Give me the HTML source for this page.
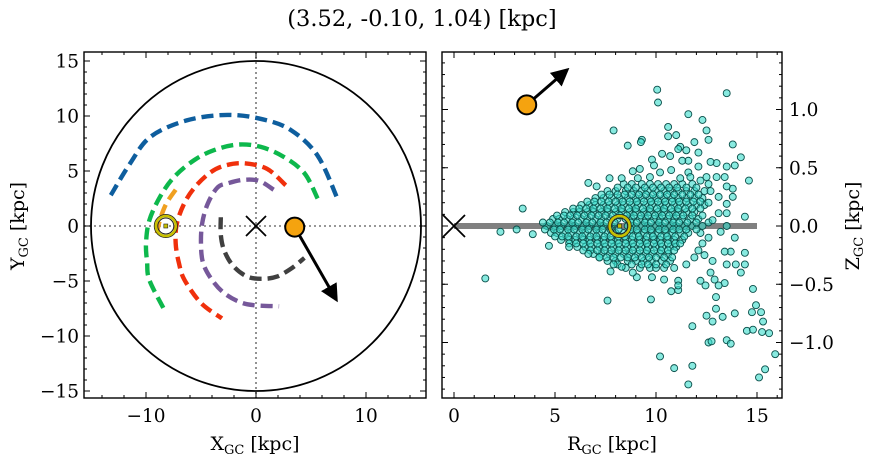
<!DOCTYPE html>
<html><head><meta charset="utf-8">
<style>
html,body{margin:0;padding:0;background:#fff;}
svg{display:block;font-family:"DejaVu Serif","Liberation Serif",serif;}
</style></head>
<body>
<svg id="fig" width="874" height="464" viewBox="0 0 874 464">
<text x="422" y="26" font-size="22.5" text-anchor="middle">(3.52, -0.10, 1.04) [kpc]</text>
</svg>
<script>
// ---------- data ----------
const armBlue   = [[-13.2,2.8],[-11.5,5.6],[-9.6,8.1],[-6.3,9.6],[-2.6,10.1],[0.6,9.7],[3.2,8.7],[5.6,6.4],[7.4,2.5]];
const armGreen  = [[5.6,2.5],[4.4,4.8],[2.5,6.3],[0.4,7.2],[-1.7,7.4],[-3.8,6.9],[-5.6,6.0],[-7.4,4.5],[-8.7,2.7],[-9.7,0.5],[-10.0,-1.6],[-9.9,-3.3],[-9.7,-4.9],[-8.4,-7.5]];
const armRed    = [[2.7,3.7],[1.0,5.2],[-1.1,5.7],[-2.8,5.5],[-4.1,4.9],[-5.5,3.6],[-6.5,2.1],[-7.2,0.2],[-7.3,-1.6],[-7.0,-3.4],[-6.5,-4.9],[-5.0,-7.0],[-3.1,-8.4]];
const armPurple = [[1.6,3.3],[0.3,4.1],[-1.1,4.2],[-2.5,3.9],[-3.5,3.5],[-4.4,2.0],[-4.9,0.2],[-5.0,-1.7],[-4.8,-3.4],[-4.0,-4.9],[-2.9,-6.1],[-1.5,-6.9],[-0.2,-7.2],[2.1,-7.3]];
const armGray   = [[-3.2,0.8],[-3.2,-0.8],[-2.9,-2.2],[-2.1,-3.6],[-0.8,-4.6],[0.6,-4.8],[1.9,-4.6],[3.3,-3.8],[4.4,-2.9]];
const armOrange = [[-7.3,3.3],[-8.0,2.3],[-8.4,1.5],[-8.8,0.3],[-9.1,-1.1]];
const sunXY = [-8.2, 0];
const starXY = [3.52, -0.10];
const starVel = [7.3, -6.7];
const sunRZ = [8.2, 0];
const starRZ = [3.6, 1.04];
const starVelRZ = [5.6, 1.34];
const outR = [10.06,13.5,10.1,11.6,12.3,7.9,10.6,10.6,11.0,12.5,12.6,13.8,8.6,9.3,9.25,10.3,11.9,11.5,14.2,9.8,6.65,7.06,14.6,13.8,13.5,14.4,3.4,2.3,3.1,3.9,4.7,5.7,1.55,7.6,9.75,13.9,14.4,14.4,14.2,14.8,14.95,14.75,15.2,15.3,15.25,15.6,14.5,14.8,15.9,15.4,15.1,10.2,10.9,11.8,11.6,11.8,12.6,12.75,13.5,13.7,12.97,13.3,12.8,12.5,13.9,12.97,12.2,12.45,13.4,13.1,12.7,12.9,13.5,13.7,13.95,13.4,12.8,12.1,11.5,11.9,11.1,11.1,10.75,11.1,10.4,9.8,9.05,8.85,7.75,7.9,8.3,7.2,6.65,13.5,13.0,12.7,13.9,13.0,13.4,13.5,13.8,13.1,13.5,13.1,11.2,11.1,10.7,11.6,12.1,11.3,12.1,11.6,10.75,10.2,9.9,9.2,8.85,7.7,8.3,9.1,9.7,12.2,11.2,11.7,12.5,12.8,13.2,12.6,13.5,12.3,12.6,12.4,12.7];
const outZ = [1.17,1.14,1.06,0.96,0.91,0.82,0.85,0.77,0.78,0.82,0.74,0.70,0.69,0.74,0.72,0.62,0.72,0.65,0.59,0.57,0.37,0.34,0.39,0.32,0.19,0.08,0.15,-0.05,-0.03,-0.07,-0.17,-0.18,-0.45,-0.64,-0.63,-0.10,-0.23,-0.33,-0.40,-0.54,-0.68,-0.74,-0.74,-0.82,-0.91,-0.92,-0.90,-0.89,-1.10,-1.23,-1.30,-1.12,-1.22,-1.20,-1.36,-0.86,-1.00,-0.99,-0.98,-1.01,-0.71,-0.78,-0.82,-0.77,-0.75,-0.61,-0.47,-0.51,-0.49,-0.51,-0.40,-0.46,-0.33,-0.22,-0.33,-0.22,-0.30,-0.21,-0.33,-0.27,-0.47,-0.55,-0.56,-0.51,-0.46,-0.44,-0.44,-0.40,-0.39,-0.33,-0.35,-0.27,-0.24,0.51,0.54,0.55,0.52,0.42,0.42,0.34,0.25,0.25,0.11,0.11,0.68,0.66,0.60,0.56,0.63,0.56,0.51,0.46,0.48,0.46,0.52,0.49,0.47,0.41,0.41,0.41,0.42,0.39,0.41,0.42,0.42,0.05,-0.05,-0.10,0.00,-0.15,0.20,-0.25,0.30];
const coreZ = [0.00,0.06,-0.06,0.12,-0.12,0.18,-0.18,0.24,-0.24,0.30,-0.30,0.36,-0.36,0.03,-0.03,0.09,-0.09,0.15,-0.15,0.21,-0.21,0.27,-0.27,0.33,-0.33];
const coreR = [
 [4.6,5.0,5.3,5.7,6.0,6.4,6.7,7.1,7.4,7.8,8.6,8.9,9.3,9.6,10.0,10.3,10.7,11.0,11.4,11.8,12.3],
 [4.9,5.2,5.6,5.9,6.3,6.6,7.0,7.3,7.7,8.1,8.5,8.8,9.2,9.5,9.9,10.2,10.6,10.9,11.3,11.7,12.1],
 [4.8,5.1,5.5,5.8,6.2,6.5,6.9,7.2,7.6,8.0,8.4,8.7,9.1,9.4,9.8,10.1,10.5,10.8,11.2,11.6,12.2],
 [5.5,5.9,6.2,6.6,6.9,7.3,7.6,8.0,8.3,8.7,9.0,9.4,9.7,10.1,10.4,10.8,11.1,11.5,11.9],
 [5.3,5.7,6.0,6.4,6.7,7.1,7.4,7.8,8.1,8.5,8.8,9.2,9.5,9.9,10.2,10.6,10.9,11.3],
 [6.3,6.7,7.0,7.4,7.7,8.1,8.4,8.8,9.1,9.5,9.8,10.2,10.5,10.9,11.2,11.6,12.0,12.4],
 [6.1,6.5,6.8,7.2,7.5,7.9,8.2,8.6,8.9,9.3,9.6,10.0,10.3,10.7,11.0],
 [7.0,7.4,7.8,8.2,8.6,9.0,9.3,9.7,10.0,10.4,10.8,11.1,11.5,11.9,12.3],
 [6.9,7.3,7.7,8.0,8.4,8.7,9.1,9.5,9.8,10.2,10.6],
 [7.6,8.0,8.5,8.9,9.3,9.6,10.0,10.4,10.7,11.1,11.5,11.9,12.4],
 [7.6,8.0,8.6,9.0,9.4,9.8,10.3,10.7],
 [8.4,8.8,9.3,9.7,10.1,10.5,10.9,11.3,11.8,12.6],
 [8.5,9.2,9.7,10.0,10.4,10.9],
 [4.4,4.75,5.15,5.45,5.85,6.15,6.55,6.85,7.25,7.55,7.95,8.75,9.05,9.45,9.75,10.15,10.45,10.85,11.15,11.55,12.0,12.6],
 [4.5,4.95,5.25,5.65,5.95,6.35,6.65,7.05,7.35,7.75,8.15,8.75,9.05,9.45,9.75,10.15,10.45,10.85,11.15,11.5,12.0],
 [5.1,5.45,5.75,6.1,6.45,6.8,7.15,7.5,7.85,8.2,8.55,8.9,9.25,9.6,9.95,10.3,10.65,11.0,11.35,11.8,12.3],
 [5.0,5.35,5.65,6.05,6.35,6.75,7.05,7.45,7.75,8.15,8.45,8.85,9.15,9.55,9.85,10.25,10.55,10.95,11.4],
 [5.9,6.2,6.55,6.9,7.25,7.6,7.95,8.3,8.65,9.0,9.35,9.7,10.05,10.4,10.75,11.1,11.45,11.8,12.2],
 [5.7,6.05,6.4,6.75,7.1,7.45,7.8,8.15,8.5,8.85,9.2,9.55,9.9,10.25,10.6,10.95,11.2],
 [6.6,6.95,7.3,7.65,8.0,8.35,8.7,9.05,9.4,9.75,10.1,10.45,10.8,11.15,11.5,11.85,12.2],
 [6.4,6.75,7.1,7.45,7.8,8.15,8.5,8.85,9.2,9.55,9.9,10.25,10.6,10.9],
 [7.3,7.7,8.1,8.45,8.8,9.15,9.5,9.85,10.2,10.55,10.9,11.3,11.7,12.1],
 [7.2,7.55,7.9,8.25,8.6,8.95,9.3,9.65,10.0,10.4,10.8],
 [8.1,8.6,9.0,9.45,9.85,10.25,10.65,11.05,11.5,12.0],
 [8.1,8.8,9.3,9.6,10.0,10.5]
];
const leftXTicks = [-10,0,10];
const leftYTicks = [-15,-10,-5,0,5,10,15];
const rightXTicks = [0,5,10,15];
const rightYTicks = [-1.0,-0.5,0.0,0.5,1.0];

// ---------- helpers ----------
const NS='http://www.w3.org/2000/svg';
const svg=document.getElementById('fig');
function mk(tag,attrs,parent){const e=document.createElementNS(NS,tag);for(const k in attrs)e.setAttribute(k,attrs[k]);(parent||svg).appendChild(e);return e;}
const L={x0:84,x1:426,y0:52,y1:398};
const lx=v=>256+v*11, ly=v=>226-v*11;
const R={x0:442,x1:782,y0:52,y1:398};
const rx=v=>454+v*20.2, rz=v=>226-v*116.5;

const defs=mk('defs',{});
const clipL=mk('clipPath',{id:'clipL'},defs);mk('rect',{x:L.x0,y:L.y0,width:L.x1-L.x0,height:L.y1-L.y0},clipL);
const clipR=mk('clipPath',{id:'clipR'},defs);mk('rect',{x:R.x0,y:R.y0,width:R.x1-R.x0,height:R.y1-R.y0},clipR);
const mkr=mk('marker',{id:'ah',markerWidth:'6',markerHeight:'6',refX:'5',refY:'3',orient:'auto',markerUnits:'strokeWidth'},defs);
mk('path',{d:'M0,0 L6,3 L0,6 Z',fill:'#000'},mkr);

// ===== LEFT PANEL =====
const gL=mk('g',{'clip-path':'url(#clipL)'});


let e;
e=mk('line',{x1:L.x0,x2:L.x1,y1:ly(0),y2:ly(0),stroke:'#777','stroke-width':1.6,'stroke-dasharray':'2,3'},gL);

e=mk('line',{x1:lx(0),x2:lx(0),y1:L.y0,y2:L.y1,stroke:'#777','stroke-width':1.6,'stroke-dasharray':'2,3'},gL);

e=mk('circle',{cx:lx(0),cy:ly(0),r:15*11,fill:'none',stroke:'#000','stroke-width':1.8},gL);


function smooth(pts,fx,fy){
  const p=pts.map(a=>[fx(a[0]),fy(a[1])]);
  let d='M'+p[0][0]+','+p[0][1];
  for(let i=0;i<p.length-1;i++){
    const p0=p[i-1]||p[i],p1=p[i],p2=p[i+1],p3=p[i+2]||p2;
    const c1=[p1[0]+(p2[0]-p0[0])/6,p1[1]+(p2[1]-p0[1])/6];
    const c2=[p2[0]-(p3[0]-p1[0])/6,p2[1]-(p3[1]-p1[1])/6];
    d+=' C'+c1+' '+c2+' '+p2;
  }
  return d;
}
const arms=[[armBlue,'#0e5e9e','arm-perseus'],[armGreen,'#0db84c','arm-local'],[armRed,'#f0300c','arm-sagittarius'],[armPurple,'#76589a','arm-scutum'],[armGray,'#404040','arm-3kpc'],[armOrange,'#f0a020','arm-orion-spur']];
arms.forEach(a=>{
  const p=mk('path',{d:smooth(a[0],lx,ly),fill:'none',stroke:a[1],'stroke-width':4.4,'stroke-dasharray':'12,6'},gL);
  
  
});
function cross(g,cx,cy,s,name){
  const gg=mk('g',{},g);
  
  
  mk('line',{x1:cx-s,y1:cy-s,x2:cx+s,y2:cy+s,stroke:'#000','stroke-width':1.8},gg);
  mk('line',{x1:cx-s,y1:cy+s,x2:cx+s,y2:cy-s,stroke:'#000','stroke-width':1.8},gg);
}
cross(gL,lx(0),ly(0),10,'galactic-center-marker');
function sun(g,cx,cy,name){
  const gg=mk('g',{},g);
  
  
  mk('circle',{cx,cy,r:11.5,fill:'none',stroke:'#222','stroke-width':1},gg);
  mk('circle',{cx,cy,r:10,fill:'none',stroke:'#c8c000','stroke-width':2.5},gg);
  mk('circle',{cx,cy,r:8,fill:'none',stroke:'#222','stroke-width':1},gg);
  mk('rect',{x:cx-2,y:cy-2,width:4,height:4,fill:'#c8c000',stroke:'#222','stroke-width':0.6},gg);
}
sun(gL,lx(sunXY[0]),ly(sunXY[1]),'sun-marker-xy');
e=mk('line',{x1:lx(starXY[0]),y1:ly(starXY[1]),x2:lx(starVel[0]),y2:ly(starVel[1]),stroke:'#000','stroke-width':3,'marker-end':'url(#ah)'},gL);

e=mk('circle',{cx:lx(starXY[0]),cy:ly(starXY[1]),r:9.5,fill:'#f5a30f',stroke:'#000','stroke-width':2},gL);


function frame(A,name){
  const r=mk('rect',{x:A.x0,y:A.y0,width:A.x1-A.x0,height:A.y1-A.y0,fill:'none',stroke:'#000','stroke-width':1.4});
  
}
frame(L,'left-axes-frame');
function ticksX(A,f,lo,hi,major,minorStep,name,labels){
  const g=mk('g',{stroke:'#000','stroke-width':1});
  
  for(let v=lo;v<=hi+1e-9;v+=minorStep){const x=f(v);if(x<A.x0||x>A.x1)continue;
    mk('line',{x1:x,x2:x,y1:A.y1,y2:A.y1-3},g);mk('line',{x1:x,x2:x,y1:A.y0,y2:A.y0+3},g);}
  major.forEach(v=>{const x=f(v);
    mk('line',{x1:x,x2:x,y1:A.y1,y2:A.y1-6},g);mk('line',{x1:x,x2:x,y1:A.y0,y2:A.y0+6},g);
    if(labels){const t=mk('text',{x:x,y:A.y1+24,'font-size':18.5,'text-anchor':'middle',stroke:'none',fill:'#000'});t.textContent=(v<0?'\u2212'+(-v):String(v));
      }
  });
}
function ticksY(A,f,lo,hi,major,minorStep,name,labelSide,fmt){
  const g=mk('g',{stroke:'#000','stroke-width':1});
  
  for(let v=lo;v<=hi+1e-9;v+=minorStep){const y=f(v);if(y<A.y0||y>A.y1)continue;
    mk('line',{x1:A.x0,x2:A.x0+3,y1:y,y2:y},g);mk('line',{x1:A.x1,x2:A.x1-3,y1:y,y2:y},g);}
  major.forEach(v=>{const y=f(v);
    mk('line',{x1:A.x0,x2:A.x0+6,y1:y,y2:y},g);mk('line',{x1:A.x1,x2:A.x1-6,y1:y,y2:y},g);
    const s=fmt(v);
    const t=labelSide==='left'?mk('text',{x:A.x0-5,y:y+6.5,'font-size':18.5,'text-anchor':'end',stroke:'none',fill:'#000'}):mk('text',{x:A.x1+7,y:y+6.5,'font-size':18.5,'text-anchor':'start',stroke:'none',fill:'#000'});
    t.textContent=s;
    
  });
}
const fmtInt=v=>v<0?'\u2212'+(-v):String(v);
const fmt1=v=>(v<0?'\u2212':'')+Math.abs(v).toFixed(1);
ticksX(L,lx,-16,16,leftXTicks,2,'left-x-axis',true);
ticksY(L,ly,-16,16,leftYTicks,1,'left-y-axis','left',fmtInt);

let t=mk('text',{x:255,y:450,'font-size':19,'text-anchor':'middle'});
t.innerHTML='X<tspan font-size="13" dy="4">GC</tspan><tspan dy="-4"> [kpc]</tspan>';

t=mk('text',{x:0,y:0,'font-size':19,'text-anchor':'middle',transform:'translate(24,226) rotate(-90)'});
t.innerHTML='Y<tspan font-size="13" dy="4">GC</tspan><tspan dy="-4"> [kpc]</tspan>';


// ===== RIGHT PANEL =====
const gR=mk('g',{'clip-path':'url(#clipR)'});


e=mk('line',{x1:rx(0),x2:rx(15),y1:rz(0),y2:rz(0),stroke:'#808080','stroke-width':6},gR);

const gS=mk('g',{fill:'#38dccb','fill-opacity':0.6,stroke:'#0a4f4a','stroke-width':0.9},gR);


coreZ.forEach((z,i)=>{coreR[i].forEach(r=>{
  const c=mk('circle',{cx:rx(r),cy:rz(z),r:3.5},gS);
  
  
});});
outR.forEach((r,i)=>{
  const c=mk('circle',{cx:rx(r),cy:rz(outZ[i]),r:3.5},gS);
  
  
});
cross(gR,rx(0),rz(0),11,'galactic-center-marker-rz');
sun(gR,rx(sunRZ[0]),rz(sunRZ[1]),'sun-marker-rz');
e=mk('line',{x1:rx(starRZ[0]),y1:rz(starRZ[1]),x2:rx(starVelRZ[0]),y2:rz(starVelRZ[1]),stroke:'#000','stroke-width':3,'marker-end':'url(#ah)'},gR);

e=mk('circle',{cx:rx(starRZ[0]),cy:rz(starRZ[1]),r:9.5,fill:'#f5a30f',stroke:'#000','stroke-width':2},gR);


frame(R,'right-axes-frame');
ticksX(R,rx,0,16,rightXTicks,1,'right-x-axis',true);
ticksY(R,rz,-1.4,1.4,rightYTicks,0.1,'right-y-axis','right',fmt1);

t=mk('text',{x:612,y:450,'font-size':19,'text-anchor':'middle'});
t.innerHTML='R<tspan font-size="13" dy="4">GC</tspan><tspan dy="-4"> [kpc]</tspan>';

t=mk('text',{x:0,y:0,'font-size':19,'text-anchor':'middle',transform:'translate(859,226) rotate(-90)'});
t.innerHTML='Z<tspan font-size="13" dy="4">GC</tspan><tspan dy="-4"> [kpc]</tspan>';

</script>
</body></html>
